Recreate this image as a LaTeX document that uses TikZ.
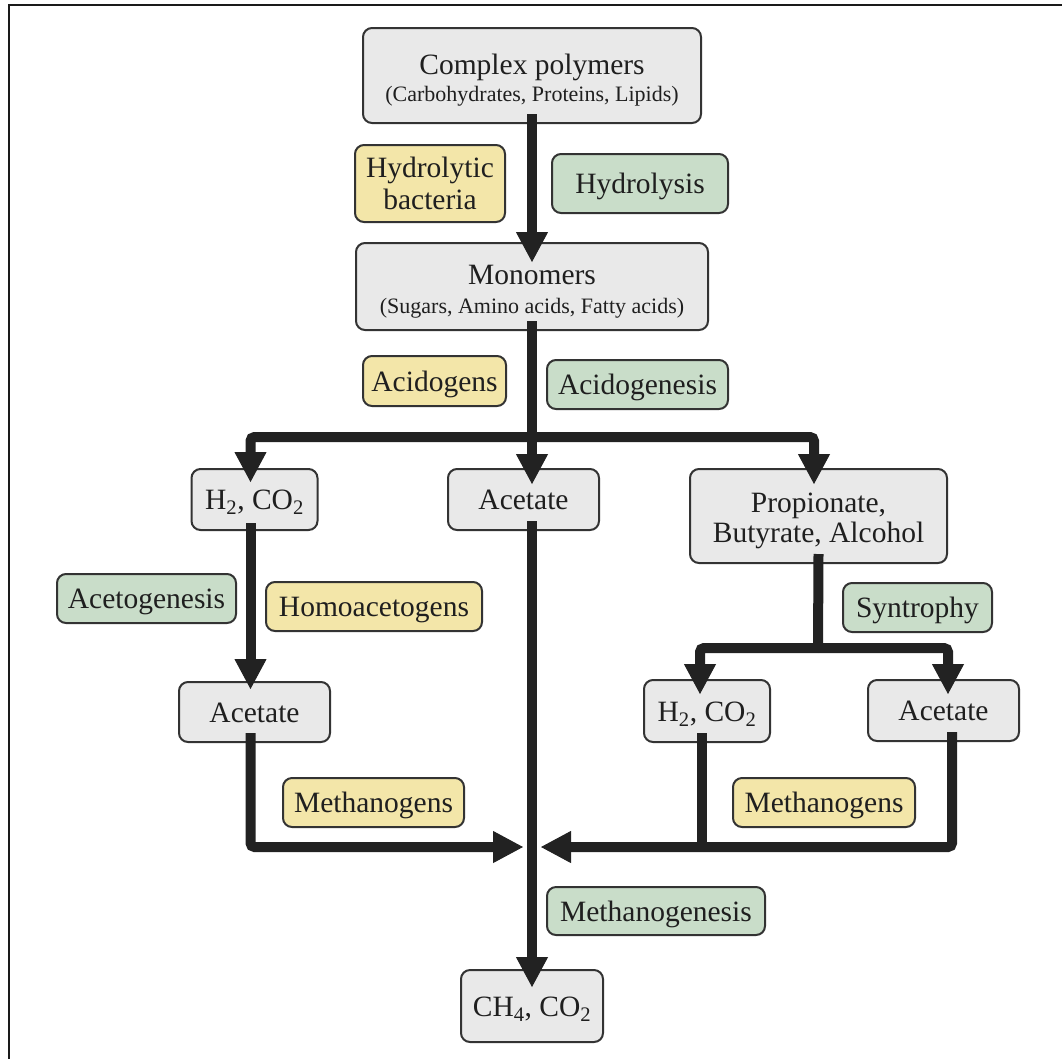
\documentclass[tikz,border=0pt]{standalone}
\usepackage{fontspec}
\setmainfont{Liberation Serif}
\usetikzlibrary{arrows.meta,calc}

\definecolor{greyfill}{HTML}{E9E9E9}
\definecolor{yellowfill}{HTML}{F3E6A9}
\definecolor{greenfill}{HTML}{C9DDC9}
\definecolor{bordercol}{HTML}{333333}
\definecolor{textcol}{HTML}{1F1F1F}
\definecolor{arrowcol}{HTML}{222222}
\definecolor{framecol}{HTML}{1A1A1A}

\newcommand\bigsz{\fontsize{29.5}{30}\selectfont}
\newcommand\smallsz{\fontsize{22}{26}\selectfont}

\tikzset{
  box/.style={draw=bordercol, line width=2pt, rounded corners=9pt, fill=greyfill,
    text=textcol, font=\bigsz, align=center, inner sep=0pt,
    text height=20pt, text depth=0pt},
  bact/.style={box, fill=yellowfill},
  proc/.style={box, fill=greenfill},
  flowline/.style={draw=arrowcol, line width=10pt, rounded corners=4pt},
  flow/.style={flowline, -{Triangle[width=32pt,length=30pt,line width=1pt]}},
}

\begin{document}
\begin{tikzpicture}[x=1pt,y=-1pt]
\useasboundingbox (0,0) rectangle (1062,1058);

% frame along the top and left edges
\draw[framecol, line width=2.5pt] (9,1070) -- (9,5) -- (1070,5);

% stages and substances (two-line texts sit on the baseline of their last line)
\node[box, minimum width=338pt, minimum height=95pt, text height=51pt] (cp) at (532,75.5)
  {Complex polymers\\[-3.6pt]{\smallsz (Carbohydrates, Proteins, Lipids)}};
\node[bact, minimum width=150pt, minimum height=77pt, text height=52pt] (hb) at (430,183.5)
  {Hydrolytic\\[2pt]bacteria};
\node[proc, minimum width=176pt, minimum height=59pt] (hy) at (640,183.5) {Hydrolysis};
\node[box, minimum width=352pt, minimum height=87pt, text height=53pt] (mo) at (532,286.5)
  {Monomers\\[-1.5pt]{\smallsz (Sugars, Amino acids, Fatty acids)}};
\node[bact, minimum width=143pt, minimum height=50pt] (acg) at (434.5,381) {Acidogens};
\node[proc, minimum width=181pt, minimum height=49pt] (acgn) at (637.5,384.5) {Acidogenesis};

\node[box, minimum width=126pt, minimum height=61pt] (h2a) at (254.5,499.5) {H\textsubscript{2}, CO\textsubscript{2}};
\node[box, minimum width=151pt, minimum height=61pt] (ac1) at (523.5,499.5) {Acetate};
\node[box, minimum width=257pt, minimum height=94pt, text height=53pt] (pba) at (818.5,516)
  {Propionate,\\Butyrate, Alcohol};

\node[proc, minimum width=179pt, minimum height=49pt] (acet) at (146.5,598.5) {Acetogenesis};
\node[bact, minimum width=216pt, minimum height=49pt] (homo) at (374,606.5) {Homoacetogens};
\node[proc, minimum width=149pt, minimum height=49pt] (syn) at (917.5,607.5) {Syntrophy};

\node[box, minimum width=151pt, minimum height=60pt] (ac2) at (254.5,712) {Acetate};
\node[box, minimum width=126pt, minimum height=62pt] (h2b) at (707,711) {H\textsubscript{2}, CO\textsubscript{2}};
\node[box, minimum width=151pt, minimum height=61pt] (ac3) at (943.5,710.5) {Acetate};

\node[bact, minimum width=181pt, minimum height=49pt] (met1) at (373.5,802.5) {Methanogens};
\node[bact, minimum width=182pt, minimum height=49pt] (met2) at (824,802.5) {Methanogens};
\node[proc, minimum width=218pt, minimum height=48pt] (metg) at (656,911) {Methanogenesis};
\node[box, minimum width=142pt, minimum height=72pt] (ch4) at (532,1006) {CH\textsubscript{4}, CO\textsubscript{2}};

% junction points of the branching flows
\coordinate (split) at (532,437);
\coordinate (split2) at (818,648);
\coordinate (mL) at (523,847);
\coordinate (mR) at (541,847);
\coordinate (jR) at (702,847);

% hydrolysis
\draw[flow] ($(cp.south)+(0,-10)$) -- ($(mo.north)+(0,20)$);

% acidogenesis branches
\draw[flowline] ($(mo.south)+(0,-10)$) -- (split);
\draw[flow] (split) -| ($(h2a.north)+(-4,14)$);
\draw[flow] (split) -- ($(split |- ac1.north)+(0,16)$);
\draw[flow] (split) -| ($(pba.north)+(-4.5,16)$);

% acetogenesis
\draw[flow] ($(h2a.south)+(-4,-8)$) -- ($(ac2.north)+(-4,8)$);

% syntrophy branches
\draw[flowline] ($(pba.south)+(0,-10)$) -- (split2);
\draw[flow] (split2) -| ($(h2b.north)+(-7,15)$);
\draw[flow] (split2) -| ($(ac3.north)+(4.5,15)$);

% methanogenesis
\draw[flow] ($(split |- ac1.south)+(0,-10)$) -- ($(ch4.north)+(0,18)$);
\draw[flow] ($(ac2.south)+(-4,-10)$) |- (mL);
\draw[flowline] ($(h2b.south)+(-5,-10)$) -- (jR);
\draw[flow] ($(ac3.south)+(8.5,-10)$) |- (mR);
\end{tikzpicture}
\end{document}
